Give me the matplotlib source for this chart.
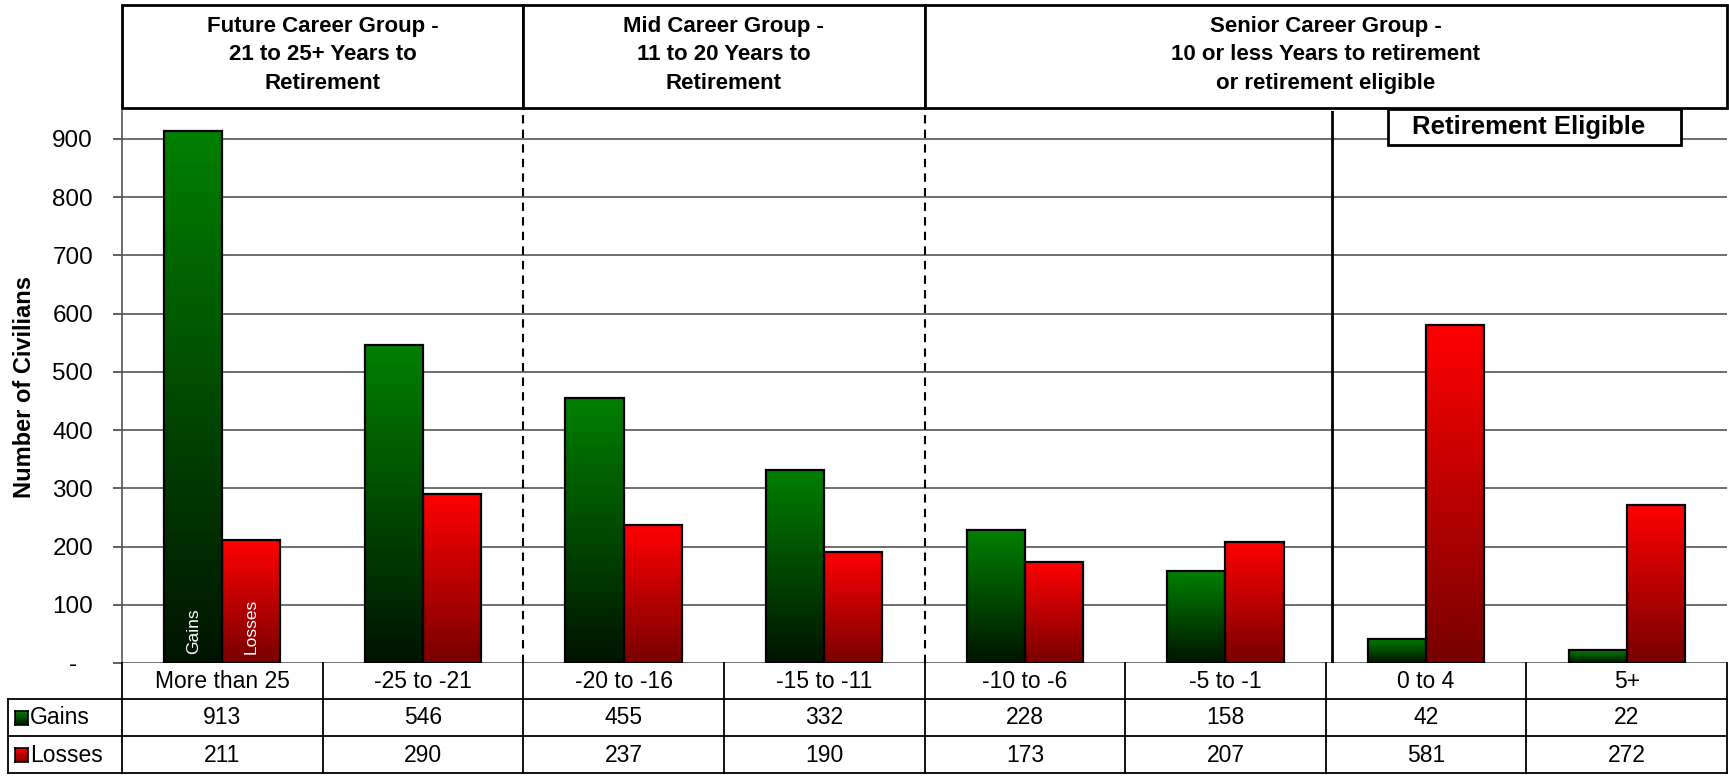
import matplotlib.pyplot as plt
import matplotlib.transforms as mtransforms
from matplotlib.colors import LinearSegmentedColormap
from matplotlib.patches import Rectangle
import numpy as np

plt.rcParams['font.family'] = ['Liberation Sans', 'DejaVu Sans']

# data
categories = ['More than 25', '-25 to -21', '-20 to -16', '-15 to -11',
              '-10 to -6', '-5 to -1', '0 to 4', '5+']
gains = [913, 546, 455, 332, 228, 158, 42, 22]
losses = [211, 290, 237, 190, 173, 207, 581, 272]
group_titles = ['Future Career Group -\n21 to 25+ Years to\nRetirement',
                'Mid Career Group -\n11 to 20 Years to\nRetirement',
                'Senior Career Group -\n10 or less Years to retirement\nor retirement eligible']
group_spans = [(0, 1), (2, 3), (4, 7)]
yticks = [0, 100, 200, 300, 400, 500, 600, 700, 800, 900]
ytick_labels = ['-', '100', '200', '300', '400', '500', '600', '700', '800', '900']

W, H = 1729, 778
fig = plt.figure(figsize=(W / 100, H / 100), dpi=100)

def fy(y):
    return 1 - y / H

ax = fig.add_axes([122 / W, fy(663), 1605 / W, (663 - 111) / H])

green_cmap = LinearSegmentedColormap.from_list('g', ['#001400', '#008000'])
red_cmap = LinearSegmentedColormap.from_list('r', ['#780000', '#ff0000'])
grad = np.linspace(0, 1, 256).reshape(-1, 1)

x = np.arange(len(categories))
w = 0.29
bars_g = ax.bar(x - w / 2, gains, w, facecolor='none', edgecolor='black', linewidth=1.6, zorder=4)
bars_r = ax.bar(x + w / 2, losses, w, facecolor='none', edgecolor='black', linewidth=1.6, zorder=4)

# gradient fill for each bar
for bars, cmap in [(bars_g, green_cmap), (bars_r, red_cmap)]:
    for b in bars:
        x0 = b.get_x()
        ax.imshow(grad, extent=[x0, x0 + b.get_width(), 0, b.get_height()],
                  origin='lower', aspect='auto', cmap=cmap, zorder=3)

ax.set_xlim(-0.5, len(categories) - 0.5)
ax.set_ylim(0, 948)
ax.set_xticks([])
ax.set_yticks(yticks)
ax.set_yticklabels(ytick_labels, fontsize=17.5, ha='center')
ax.tick_params(axis='y', length=6.5, width=1.2, pad=29, color='#444444')
ax.yaxis.grid(True, color='#555555', linewidth=1.2, zorder=0)
ax.set_axisbelow(True)
for s in ['top', 'right', 'bottom']:
    ax.spines[s].set_visible(False)
ax.spines['left'].set_color('#555555')
ax.spines['left'].set_linewidth(1.2)

ax.set_ylabel('Number of Civilians', fontsize=17, fontweight='bold')
ax.yaxis.set_label_coords(-86 / 1605, 0.5)

# separators
for xv in [1.5, 3.5]:
    ax.axvline(xv, color='black', linestyle=(0, (4, 3)), linewidth=1.5, zorder=5)
ax.axvline(5.53, color='black', linewidth=2, zorder=5)

# labels inside first bars
ax.text(-w / 2, 15, 'Gains', rotation=90, color='white', fontsize=12.5,
        ha='center', va='bottom', zorder=6)
ax.text(w / 2, 15, 'Losses', rotation=90, color='white', fontsize=12.5,
        ha='center', va='bottom', zorder=6)

# header boxes
tr = mtransforms.blended_transform_factory(ax.transData, fig.transFigure)
for (a, b), title in zip(group_spans, group_titles):
    fig.patches.append(Rectangle((a - 0.5, fy(108)), b - a + 1, (108 - 5) / H,
                                 transform=tr, facecolor='white', edgecolor='black',
                                 linewidth=2, zorder=5))
    fig.text((a + b) / 2, fy(55), title, transform=tr, ha='center', va='center',
             fontsize=16, fontweight='bold', linespacing=1.45, zorder=6)

# retirement eligible box
fig.patches.append(Rectangle((5.81, fy(145)), 1.46, (145 - 109) / H, transform=tr,
                             facecolor='white', edgecolor='black', linewidth=2, zorder=5))
fig.text(6.51, fy(127), 'Retirement Eligible', transform=tr, ha='center', va='center',
         fontsize=18.5, fontweight='bold', zorder=6)

# data table
rows_y = [663, 699, 736, 773]
left_px = 8
for i in range(len(categories) + 1):
    fig.add_artist(plt.Line2D([i - 0.5, i - 0.5], [fy(663), fy(773)], transform=tr,
                              color='black', lw=1.3))
fig.add_artist(plt.Line2D([left_px / W, left_px / W], [fy(699), fy(773)],
                          color='black', lw=1.3))
for yv in rows_y[1:]:
    fig.add_artist(plt.Line2D([left_px / W, 1727 / W], [fy(yv), fy(yv)], color='black', lw=1.3))

for i, c in enumerate(categories):
    fig.text(i, fy(681), c, transform=tr, ha='center', va='center', fontsize=16.5)
    fig.text(i, fy(718), str(gains[i]), transform=tr, ha='center', va='center', fontsize=16.5)
    fig.text(i, fy(755), str(losses[i]), transform=tr, ha='center', va='center', fontsize=16.5)

# legend keys in row labels
for yc, name, cmap in [(718, 'Gains', green_cmap), (755, 'Losses', red_cmap)]:
    kax = fig.add_axes([15 / W, fy(yc + 7), 13 / W, 14 / H])
    kax.imshow(grad, origin='lower', aspect='auto', cmap=cmap, extent=[0, 1, 0, 1])
    kax.set_xticks([])
    kax.set_yticks([])
    for s in kax.spines.values():
        s.set_linewidth(1.2)
    fig.text(30 / W, fy(yc), name, ha='left', va='center', fontsize=16.5)

fig.savefig('out.png', dpi=100)
